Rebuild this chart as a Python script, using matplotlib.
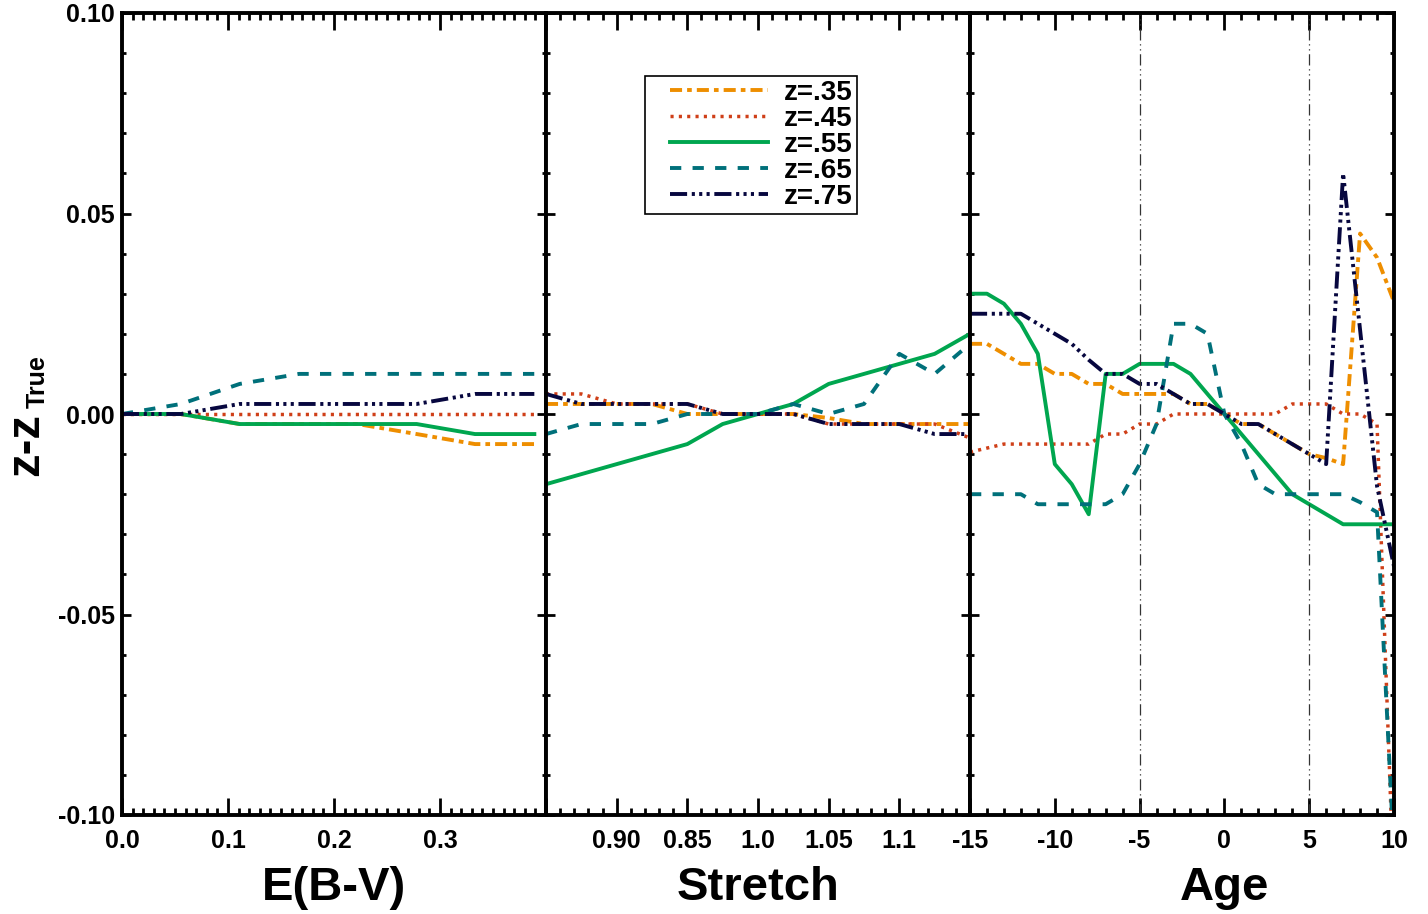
import matplotlib.pyplot as plt
from matplotlib.lines import Line2D
from matplotlib.legend_handler import HandlerLine2D
from matplotlib.ticker import MultipleLocator

plt.rcParams['font.family'] = ['Liberation Sans', 'DejaVu Sans']
plt.rcParams['font.weight'] = 'bold'
plt.rcParams['axes.unicode_minus'] = False

# redshift offsets vs. colour excess
ebv = [0.0, 0.0556, 0.111, 0.167, 0.222, 0.278, 0.333, 0.389]
ebv_z35 = [0.0, 0.0, -0.0025, -0.0025, -0.0025, -0.005, -0.0075, -0.0075]
ebv_z45 = [0.0, 0.0, 0.0, 0.0, 0.0, 0.0, 0.0, 0.0]
ebv_z55 = [0.0, 0.0, -0.0025, -0.0025, -0.0025, -0.0025, -0.005, -0.005]
ebv_z65 = [0.0, 0.0025, 0.0075, 0.01, 0.01, 0.01, 0.01, 0.01]
ebv_z75 = [0.0, 0.0, 0.0025, 0.0025, 0.0025, 0.0025, 0.005, 0.005]

# redshift offsets vs. stretch
stretch = [0.85, 0.875, 0.9, 0.925, 0.95, 0.975, 1.0, 1.025, 1.05, 1.075, 1.1, 1.125, 1.15]
str_z35 = [0.0025, 0.0025, 0.0025, 0.0025, 0.0, 0.0, 0.0, 0.0, -0.001, -0.0025, -0.0025, -0.0025, -0.0025]
str_z45 = [0.005, 0.005, 0.0025, 0.0025, 0.0025, 0.0, 0.0, 0.0, -0.0025, -0.0025, -0.0025, -0.0025, -0.006]
str_z55 = [-0.0175, -0.015, -0.0125, -0.01, -0.0075, -0.0025, 0.0, 0.0025, 0.0075, 0.01, 0.0125, 0.015, 0.02]
str_z65 = [-0.005, -0.0025, -0.0025, -0.0025, 0.0, 0.0, 0.0, 0.0025, 0.0, 0.0025, 0.015, 0.01, 0.0175]
str_z75 = [0.005, 0.0025, 0.0025, 0.0025, 0.0025, 0.0, 0.0, 0.0, -0.0025, -0.0025, -0.0025, -0.005, -0.005]

# redshift offsets vs. age
age = list(range(-15, 11))
age_z35 = [0.0175, 0.0175, 0.015, 0.0125, 0.0125, 0.01, 0.01, 0.0075, 0.0075, 0.005, 0.005, 0.005, 0.005,
           0.0025, 0.0025, 0.0, -0.0025, -0.0025, -0.005, -0.0075, -0.01, -0.011, -0.0125, 0.045, 0.039, 0.028]
age_z45 = [-0.0095, -0.0085, -0.0075, -0.0075, -0.0075, -0.0075, -0.0075, -0.0075, -0.005, -0.005, -0.0025,
           -0.0025, 0.0, 0.0, 0.0, 0.0, 0.0, 0.0, 0.0, 0.0025, 0.0025, 0.0025, 0.0, 0.0, -0.0025, -0.12]
age_z55 = [0.03, 0.03, 0.0275, 0.0225, 0.015, -0.0125, -0.0175, -0.025, 0.01, 0.01, 0.0125, 0.0125, 0.0125,
           0.01, 0.005, 0.0, -0.005, -0.01, -0.015, -0.02, -0.0225, -0.025, -0.0275, -0.0275, -0.0275, -0.0275]
age_z65 = [-0.02, -0.02, -0.02, -0.02, -0.0225, -0.0225, -0.0225, -0.0225, -0.0225, -0.02, -0.0125, -0.0025,
           0.0225, 0.0225, 0.02, 0.0, -0.0075, -0.0175, -0.02, -0.02, -0.02, -0.02, -0.02, -0.022, -0.0245, -0.11]
age_z75 = [0.025, 0.025, 0.025, 0.025, 0.0225, 0.02, 0.0175, 0.0135, 0.01, 0.01, 0.0075, 0.0075, 0.005,
           0.0025, 0.0025, 0.0, -0.0025, -0.0025, -0.005, -0.0075, -0.01, -0.0125, 0.06, 0.021, -0.018, -0.038]

labels = ['z=.35', 'z=.45', 'z=.55', 'z=.65', 'z=.75']
colors = ['#EE8E00', '#CF3F18', '#00A64F', '#00707A', '#07073F']
styles = [(0, (3.1, 1.3, 1.2, 1.3)), (0, (0.9, 1.5)), '-', (0, (2.9, 2.9)),
          (0, (4.4, 1.2, 0.8, 1.1, 0.8, 1.1, 0.8, 1.2))]
widths = [2.8, 2.5, 2.8, 2.8, 2.8]

fig = plt.figure(figsize=(14.28, 9.14), dpi=100)
x0, w = 122 / 1428, 424 / 1428
y0, h = 1 - 815 / 914, 802 / 914
ax1 = fig.add_axes([x0, y0, w, h])
ax2 = fig.add_axes([x0 + w, y0, w, h])
ax3 = fig.add_axes([x0 + 2 * w, y0, w, h])

panels = [
    (ax1, ebv, [ebv_z35, ebv_z45, ebv_z55, ebv_z65, ebv_z75]),
    (ax2, stretch, [str_z35, str_z45, str_z55, str_z65, str_z75]),
    (ax3, age, [age_z35, age_z45, age_z55, age_z65, age_z75]),
]
for ax, x, series in panels:
    for y, lab, c, ls, lw in zip(series, labels, colors, styles, widths):
        ax.plot(x, y, color=c, linestyle=ls, linewidth=lw, label=lab)
    ax.set_ylim(-0.1, 0.1)
    ax.set_yticks([-0.1, -0.05, 0.0, 0.05, 0.1])
    ax.yaxis.set_minor_locator(MultipleLocator(0.01))
    for sp in ax.spines.values():
        sp.set_linewidth(2.8)
    ax.tick_params(which='both', direction='in', top=True, right=True, width=2,
                   labelsize=18, labelleft=False)
    ax.tick_params(axis='x', which='major', length=12, pad=10)
    ax.tick_params(axis='x', which='minor', length=5)
    ax.tick_params(axis='y', which='major', length=6.5, pad=5)
    ax.tick_params(axis='y', which='minor', length=3)

ax1.set_yticklabels(['-0.10', '-0.05', '0.00', '0.05', '0.10'])
ax1.tick_params(labelleft=True)

ax1.set_xlim(0, 0.4)
ax1.set_xticks([0.0, 0.1, 0.2, 0.3, 0.4], ['0.0', '0.1', '0.2', '0.3', ''])
ax1.xaxis.set_minor_locator(MultipleLocator(0.01))

ax2.set_xlim(0.85, 1.15)
ax2.set_xticks([0.85, 0.9, 0.95, 1.0, 1.05, 1.1, 1.15],
               ['', '0.90', '0.85', '1.0', '1.05', '1.1', ''])
ax2.xaxis.set_minor_locator(MultipleLocator(0.01))

ax3.set_xlim(-15, 10)
ax3.set_xticks([-15, -10, -5, 0, 5, 10])
ax3.xaxis.set_minor_locator(MultipleLocator(1))
for xv in [-5, 5]:
    ax3.axvline(xv, color='#333333', linewidth=0.9, linestyle=(0, (9, 3, 1, 3, 1, 3)))

ax1.set_xlabel('E(B-V)', fontsize=34, fontweight='bold')
ax2.set_xlabel('Stretch', fontsize=34, fontweight='bold')
ax3.set_xlabel('Age', fontsize=34, fontweight='bold')
ax1.xaxis.set_label_coords(0.5, -0.063)
ax2.xaxis.set_label_coords(0.5, -0.063)
ax3.xaxis.set_label_coords(0.601, -0.063)

fig.text(26 / 1428, 1 - 445 / 914, 'z-z', fontsize=34, rotation=90, ha='center', va='center')
fig.text(38 / 1428, 1 - 382 / 914, 'True', fontsize=18, rotation=90, ha='center', va='center')

leg = ax2.legend(loc='upper left', bbox_to_anchor=((645 - 546) / 424, (815 - 76) / 802),
                 borderaxespad=0, fontsize=20, handlelength=4.27, handletextpad=0.58,
                 labelspacing=0.0, borderpad=0.15, fancybox=False, framealpha=1,
                 edgecolor='black', handler_map={Line2D: HandlerLine2D(xpad=0.75)})
leg.get_frame().set_linewidth(1.2)

fig.savefig('out.png', dpi=100)
